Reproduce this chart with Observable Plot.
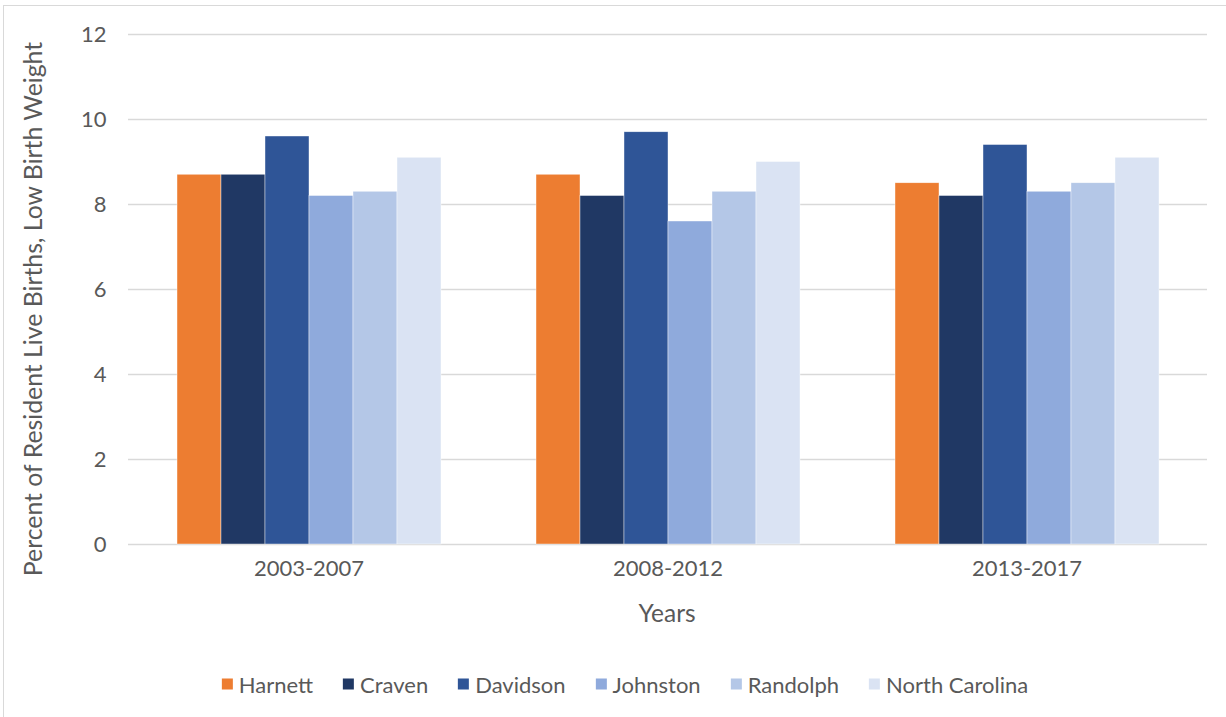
<!DOCTYPE html>
<html>
<head>
<meta charset="utf-8">
<script src="https://cdn.jsdelivr.net/npm/d3@7"></script>
<script src="https://cdn.jsdelivr.net/npm/@observablehq/plot@0.6"></script>
<style>
  html, body { margin: 0; padding: 0; background: #fff; overflow: hidden; }
  body { width: 1226px; height: 717px; position: relative; font-family: Lato, "Open Sans", sans-serif; }
  #frame { position: absolute; left: 3px; top: 5px; width: 1400px; height: 900px; border: 1px solid #d9d9d9; box-sizing: border-box; }
  #grid, #chart { position: absolute; left: 0; top: 0; }
  #ytitle { position: absolute; left: 32px; top: 309px; transform: translate(-50%, -50%) rotate(-90deg); white-space: nowrap; font-size: 24.8px; color: #595959; }
  #xtitle { position: absolute; left: 667px; top: 612px; transform: translate(-50%, -50%); font-size: 24.5px; color: #595959; }
  #legend { position: absolute; left: 625px; top: 684px; transform: translate(-50%, -50%); display: flex; gap: 30px; white-space: nowrap; font-size: 22px; color: #595959; }
  #legend .item { display: flex; align-items: center; }
  #legend .sw { width: 11px; height: 11px; margin-right: 6px; }
</style>
</head>
<body>
<div id="frame"></div>
<div id="grid"></div>
<div id="chart"></div>
<div id="ytitle">Percent of Resident Live Births, Low Birth Weight</div>
<div id="xtitle">Years</div>
<div id="legend"></div>
<script>
const periods = ["2003-2007", "2008-2012", "2013-2017"];
const counties = ["Harnett", "Craven", "Davidson", "Johnston", "Randolph", "North Carolina"];
const colors = ["#ED7D31", "#203864", "#2F5597", "#8FAADC", "#B4C7E7", "#DAE3F3"];
const harnett = [8.7, 8.7, 8.5];
const craven = [8.7, 8.2, 8.2];
const davidson = [9.6, 9.7, 9.4];
const johnston = [8.2, 7.6, 8.3];
const randolph = [8.3, 8.3, 8.5];
const northCarolina = [9.1, 9.0, 9.1];
const yTicks = [0, 2, 4, 6, 8, 10, 12];

const series = [harnett, craven, davidson, johnston, randolph, northCarolina];
const data = [];
periods.forEach((p, i) => {
  counties.forEach((c, j) => data.push({period: p, county: c, value: series[j][i]}));
});

const common = {
  width: 1226,
  height: 640,
  marginLeft: 128,
  marginRight: 19,
  marginTop: 34,
  marginBottom: 96,
  style: {fontFamily: "Lato, 'Open Sans', sans-serif", fontSize: "22px", color: "#595959", background: "transparent"}
};

// gridlines across the full plot width
const grid = Plot.plot({
  ...common,
  y: {domain: [0, 12], ticks: yTicks, label: null, tickSize: 0, tickPadding: 22},
  marks: [
    Plot.ruleY(yTicks, {stroke: "#d9d9d9", strokeWidth: 1.3})
  ]
});
document.getElementById("grid").appendChild(grid);

const chart = Plot.plot({
  ...common,
  fx: {domain: periods, paddingInner: 0.255, paddingOuter: 0.1275, label: null, tickSize: 0, tickPadding: 16},
  x: {domain: counties, padding: 0, axis: null},
  y: {domain: [0, 12], axis: null},
  color: {domain: counties, range: colors},
  marks: [
    Plot.barY(data, {fx: "period", x: "county", y: "value", fill: "county", stroke: "#ffffff", strokeWidth: 0.6, strokeOpacity: 0.7})
  ]
});
document.getElementById("chart").appendChild(chart);

const legend = document.getElementById("legend");
counties.forEach((c, i) => {
  const item = document.createElement("div");
  item.className = "item";
  const sw = document.createElement("span");
  sw.className = "sw";
  sw.style.background = colors[i];
  const t = document.createElement("span");
  t.textContent = c;
  item.appendChild(sw);
  item.appendChild(t);
  legend.appendChild(item);
});
</script>
</body>
</html>
